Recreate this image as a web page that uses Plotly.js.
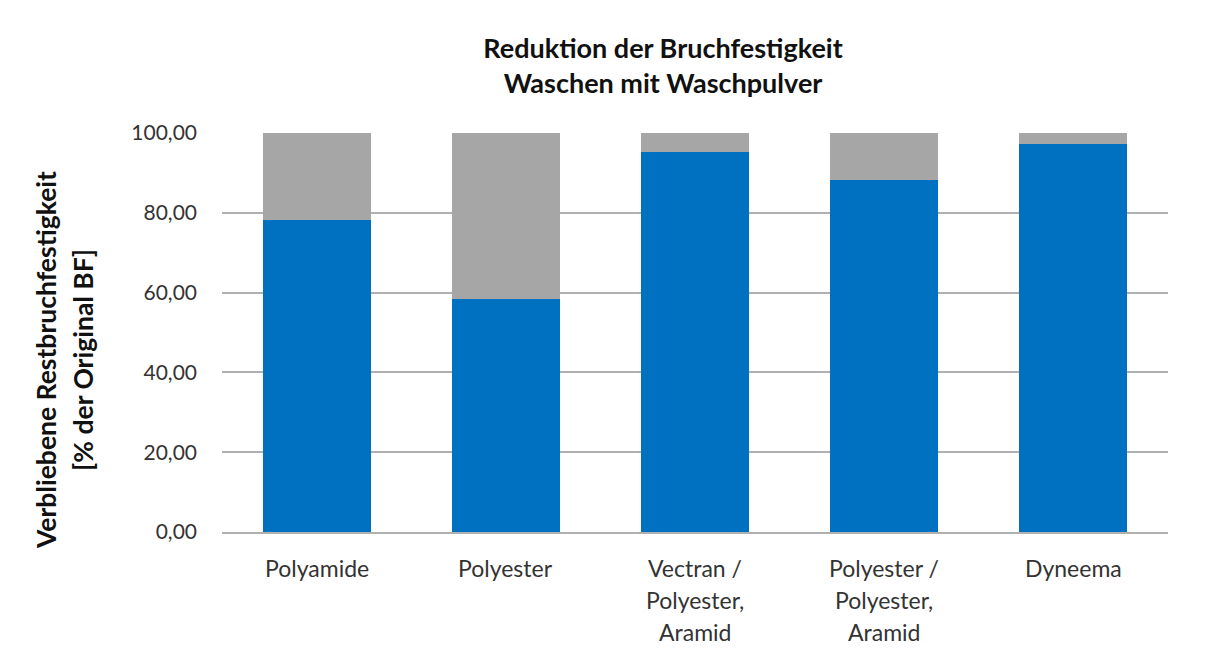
<!DOCTYPE html>
<html>
<head>
<meta charset="utf-8">
<script src="https://cdn.plot.ly/plotly-3.0.1.min.js"></script>
<style>html,body{margin:0;padding:0;background:#fff;}#chart{width:1212px;height:661px;}</style>
</head>
<body>
<div id="chart"></div>
<script>
const categories = ["Polyamide", "Polyester", "Vectran / Polyester, Aramid", "Polyester / Polyester, Aramid", "Dyneema"];
const labelLines = [["Polyamide"], ["Polyester"], ["Vectran /", "Polyester,", "Aramid"], ["Polyester /", "Polyester,", "Aramid"], ["Dyneema"]];
const remaining = [78.2, 58.4, 95.3, 88.3, 97.2];
const reduction = remaining.map(v => +(100 - v).toFixed(2));
const yTickVals = [0, 20, 40, 60, 80, 100];
const yTickText = ["0,00", "20,00", "40,00", "60,00", "80,00", "100,00"];
const yTitleLines = ["Verbliebene Restbruchfestigkeit", "[% der Original BF]"];

const FONT = "Lato, 'Open Sans', sans-serif";

const traces = [
  {type: "bar", x: categories, y: remaining, name: "Restbruchfestigkeit",
   marker: {color: "#0070c0"}, hoverinfo: "y"},
  {type: "bar", x: categories, y: reduction, name: "Reduktion",
   marker: {color: "#a6a6a6"}, hoverinfo: "y"}
];

const annotations = [];
labelLines.forEach((lines, i) => {
  lines.forEach((line, j) => {
    annotations.push({
      x: categories[i], xref: "x", y: 0, yref: "paper",
      yanchor: "middle", xanchor: "center",
      yshift: -36 - j * 32,
      text: line, showarrow: false,
      font: {family: FONT, size: 23, color: "#333"}
    });
  });
});
yTitleLines.forEach((line, j) => {
  annotations.push({
    x: (46 + j * 37) / 1212, xref: "paper", xanchor: "center",
    y: 1 - 360 / 661, yref: "paper", yanchor: "middle",
    textangle: -90, text: "<b>" + line + "</b>", showarrow: false,
    font: {family: FONT, size: 26.5, color: "#111"}
  });
});
// convert container-based x positions into paper coordinates
annotations.forEach(a => {
  if (a.xref === "paper" && a.textangle === -90) {
    const px = a.x * 1212;
    a.x = (px - 222) / (1212 - 222 - 44);
    a.y = (661 - 129 - 360) / (661 - 133 - 129);
  }
});

const layout = {
  width: 1212, height: 661,
  barmode: "stack",
  bargap: 0.43,
  showlegend: false,
  paper_bgcolor: "#fff", plot_bgcolor: "#fff",
  margin: {l: 222, r: 44, t: 133, b: 129},
  font: {family: FONT, color: "#333"},
  title: {
    text: "<b>Reduktion der Bruchfestigkeit<br>Waschen mit Waschpulver</b>",
    font: {family: FONT, size: 27, color: "#111"},
    x: 663 / 1212, xanchor: "center", xref: "container",
    y: 1 - 58 / 661, yanchor: "middle", yref: "container"
  },
  xaxis: {
    showticklabels: false, showgrid: false, zeroline: false,
    showline: true, linecolor: "#b0b0b0", linewidth: 2, ticks: ""
  },
  yaxis: {
    range: [0, 100], tickvals: yTickVals, ticktext: yTickText,
    showgrid: true, gridcolor: "#b0b0b0", gridwidth: 2,
    zeroline: false, showline: false, ticks: "",
    ticklabelstandoff: 24,
    tickfont: {family: FONT, size: 21, color: "#333"}
  },
  annotations: annotations
};

Plotly.newPlot("chart", traces, layout, {displayModeBar: false, staticPlot: true});
</script>
</body>
</html>
